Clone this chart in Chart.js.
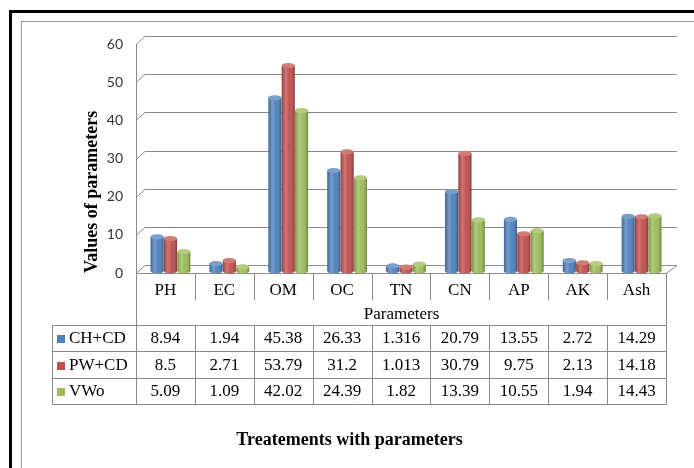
<!DOCTYPE html>
<html>
<head>
<meta charset="utf-8">
<title>Treatements with parameters</title>
<script src="https://cdn.jsdelivr.net/npm/chart.js@4"></script>
<style>
    html, body { margin: 0; padding: 0; background: #fff; overflow: hidden; }
    #wrap { position: relative; width: 694px; height: 468px; }
    canvas { position: absolute; left: 0; top: 0; }
    .frame { position: absolute; pointer-events: none; }
</style>
</head>
<body>
<div id="wrap">
    <canvas id="params-chart" width="694" height="468"></canvas>
    <div class="frame" style="left:9px; top:10px; width:700px; height:470px; border-left:3px solid #000; border-top:3px solid #000;"></div>
    <div class="frame" style="left:21px; top:21px; width:700px; height:470px; border-left:1px solid #9a9a9a; border-top:1px solid #9a9a9a;"></div>
</div>
<script>
// Chart data
const categories = ['PH', 'EC', 'OM', 'OC', 'TN', 'CN', 'AP', 'AK', 'Ash'];
const seriesNames = ['CH+CD', 'PW+CD', 'VWo'];
const chCd = [8.94, 1.94, 45.38, 26.33, 1.316, 20.79, 13.55, 2.72, 14.29];
const pwCd = [8.5, 2.71, 53.79, 31.2, 1.013, 30.79, 9.75, 2.13, 14.18];
const vwo = [5.09, 1.09, 42.02, 24.39, 1.82, 13.39, 10.55, 1.94, 14.43];
const seriesColors = ['#4F81BD', '#C0504D', '#9BBB59'];

const LINE = '#8a8a8a';
const SERIF = '"Liberation Serif", "Times New Roman", serif';
// depth of the 3D box (back wall offset from the front plane)
const DEPTH_X = 9, DEPTH_Y = 8;
// bars stand a little behind the front plane
const BAR_SHIFT_X = 5, BAR_SHIFT_Y = -2;

/**
 * Draws the back wall gridlines, left wall and the floor
 * then shifts and shades the bars like cylinders
 */
const box3d = {
    id: 'box3d',
    beforeDatasetsDraw(chart) {
        const ctx = chart.ctx;
        const y = chart.scales.y;
        const area = chart.chartArea;
        const backRight = area.right + DEPTH_X + 2;

        ctx.save();
        ctx.strokeStyle = LINE;
        ctx.lineWidth = 1;
        y.ticks.forEach(function(t) {
            const py = Math.round(y.getPixelForValue(t.value)) + 0.5;
            ctx.beginPath();
            ctx.moveTo(area.left, py);
            ctx.lineTo(area.left + DEPTH_X, py - DEPTH_Y);
            ctx.lineTo(backRight, py - DEPTH_Y);
            ctx.stroke();
        });
        // floor front edge and right side
        const py0 = Math.round(y.getPixelForValue(0)) + 0.5;
        ctx.beginPath();
        ctx.moveTo(area.left, py0);
        ctx.lineTo(area.right, py0);
        ctx.lineTo(backRight, py0 - DEPTH_Y);
        ctx.stroke();
        // front left edge
        ctx.beginPath();
        ctx.moveTo(Math.round(area.left) + 0.5, area.top);
        ctx.lineTo(Math.round(area.left) + 0.5, py0);
        ctx.stroke();
        ctx.restore();

        ctx.save();
        ctx.translate(BAR_SHIFT_X, BAR_SHIFT_Y);
    },
    afterDatasetsDraw(chart) {
        const ctx = chart.ctx;
        chart.data.datasets.forEach(function(ds, di) {
            const meta = chart.getDatasetMeta(di);
            meta.data.forEach(function(bar) {
                const w = bar.width;
                const left = bar.x - w / 2;
                const ry = Math.min(2.8, w / 5);

                // cylinder shading over the bar body
                const grad = ctx.createLinearGradient(left, 0, left + w, 0);
                grad.addColorStop(0, 'rgba(0,0,0,0.18)');
                grad.addColorStop(0.3, 'rgba(255,255,255,0.22)');
                grad.addColorStop(0.6, 'rgba(255,255,255,0.02)');
                grad.addColorStop(1, 'rgba(0,0,0,0.30)');

                // rounded bottom
                ctx.beginPath();
                ctx.ellipse(bar.x, bar.base, w / 2, ry, 0, 0, Math.PI);
                ctx.fillStyle = ds.backgroundColor;
                ctx.fill();
                ctx.fillStyle = grad;
                ctx.fill();

                ctx.fillStyle = grad;
                ctx.fillRect(left, bar.y, w, bar.base - bar.y);

                // top cap
                ctx.beginPath();
                ctx.ellipse(bar.x, bar.y, w / 2, ry, 0, 0, Math.PI * 2);
                ctx.fillStyle = ds.backgroundColor;
                ctx.fill();
                ctx.fillStyle = 'rgba(255,255,255,0.25)';
                ctx.fill();
            });
        });
        ctx.restore();
    }
};

/**
 * Data table under the plot, columns follow the category scale
 */
const dataTable = {
    id: 'dataTable',
    afterDraw(chart) {
        const ctx = chart.ctx;
        const x = chart.scales.x;
        const area = chart.chartArea;
        const step = x.getPixelForValue(1) - x.getPixelForValue(0);
        const colEdge = function(i) { return Math.round(x.getPixelForValue(i) - step / 2) + 0.5; };
        const px = function(v) { return Math.round(v) + 0.5; };

        const top = area.bottom;
        const catBottom = top + 27;
        const rowTops = [325, 351, 378, 404];
        const tableLeft = 52;
        const rows = [chCd, pwCd, vwo];

        ctx.save();
        ctx.strokeStyle = LINE;
        ctx.lineWidth = 1;
        ctx.beginPath();
        // category separators
        for (let i = 1; i < categories.length; i++) {
            ctx.moveTo(colEdge(i), top);
            ctx.lineTo(colEdge(i), catBottom);
            ctx.moveTo(colEdge(i), px(rowTops[0]));
            ctx.lineTo(colEdge(i), px(rowTops[3]));
        }
        // outer sides
        ctx.moveTo(colEdge(0), top);
        ctx.lineTo(colEdge(0), px(rowTops[3]));
        ctx.moveTo(colEdge(categories.length), top);
        ctx.lineTo(colEdge(categories.length), px(rowTops[3]));
        ctx.moveTo(px(tableLeft), px(rowTops[0]));
        ctx.lineTo(px(tableLeft), px(rowTops[3]));
        rowTops.forEach(function(r) {
            ctx.moveTo(px(tableLeft), px(r));
            ctx.lineTo(colEdge(categories.length), px(r));
        });
        ctx.stroke();

        ctx.fillStyle = '#000';
        ctx.font = '17px ' + SERIF;
        ctx.textAlign = 'center';
        ctx.textBaseline = 'middle';
        categories.forEach(function(c, i) {
            ctx.fillText(c, x.getPixelForValue(i), top + 18);
        });
        ctx.fillText('Parameters', (colEdge(0) + colEdge(categories.length)) / 2, 315);

        rows.forEach(function(vals, r) {
            const cy = (rowTops[r] + rowTops[r + 1]) / 2 + 1;
            vals.forEach(function(v, i) {
                ctx.textAlign = 'center';
                ctx.fillText(String(v), x.getPixelForValue(i), cy);
            });
            // legend key
            ctx.fillStyle = seriesColors[r];
            ctx.fillRect(57, Math.round(cy) - 4, 8, 8);
            ctx.fillStyle = '#000';
            ctx.textAlign = 'left';
            ctx.fillText(seriesNames[r], 69, cy);
        });

        // caption under the table
        ctx.font = 'bold 18px ' + SERIF;
        ctx.textAlign = 'center';
        ctx.fillText('Treatements with parameters', 349.5, 440);
        ctx.restore();
    }
};

document.addEventListener('DOMContentLoaded', function() {
    const chartDatasets = [chCd, pwCd, vwo].map(function(vals, i) {
        return {
            label: seriesNames[i],
            data: vals,
            backgroundColor: seriesColors[i],
            borderWidth: 0,
            clip: false
        };
    });

    new Chart(document.getElementById('params-chart'), {
        type: 'bar',
        data: {
            labels: categories,
            datasets: chartDatasets
        },
        options: {
            responsive: false,
            animation: false,
            events: [],
            layout: {
                padding: { left: 0, right: 28, top: 44, bottom: 195 }
            },
            datasets: {
                bar: { categoryPercentage: 0.68, barPercentage: 0.98 }
            },
            plugins: {
                legend: { display: false },
                tooltip: { enabled: false }
            },
            scales: {
                x: { display: false },
                y: {
                    min: 0,
                    max: 60,
                    ticks: {
                        stepSize: 10,
                        padding: 13,
                        color: '#333',
                        font: { family: 'Lato', size: 14 }
                    },
                    grid: { display: false, drawTicks: false },
                    border: { display: false },
                    title: {
                        display: true,
                        text: 'Values of parameters',
                        align: 'start',
                        color: '#000',
                        font: { family: SERIF, size: 18, weight: 'bold', lineHeight: 1.2 },
                        padding: { top: 82, bottom: 0 }
                    },
                    afterFit: function(scale) { scale.width = 136; }
                }
            }
        },
        plugins: [box3d, dataTable]
    });
});
</script>
</body>
</html>
